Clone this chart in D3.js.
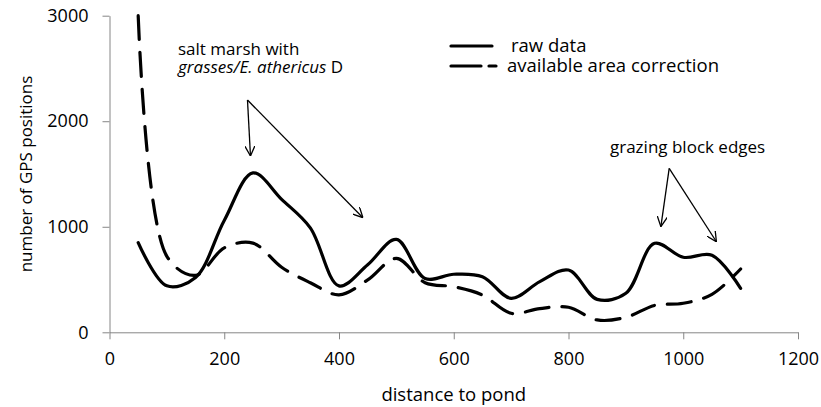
<!DOCTYPE html>
<html>
<head>
<meta charset="utf-8">
<script src="https://cdn.jsdelivr.net/npm/d3@7"></script>
<style>
  body { margin: 0; background: #fff; }
  text { font-family: "Open Sans", sans-serif; fill: #000; }
  .axis path, .axis line { stroke: #868686; }
</style>
</head>
<body>
<div id="chart"></div>
<script>
var distance = [50, 100, 150, 200, 250, 300, 350, 400, 450, 500, 550, 600, 650, 700, 750, 800, 850, 900, 950, 1000, 1050, 1100];
var rawData = [850, 440, 520, 1060, 1510, 1260, 990, 440, 640, 880, 510, 550, 527, 322, 480, 590, 312, 370, 843, 711, 730, 417];
var areaCorrected = [3000, 720, 540, 800, 845, 616, 470, 355, 496, 700, 470, 432, 353, 180, 225, 237, 117, 142, 255, 275, 360, 600];
var xTicks = [0, 200, 400, 600, 800, 1000, 1200];
var yTicks = [0, 1000, 2000, 3000];
var seriesNames = ["raw data", "available area correction"];

var width = 821, height = 407;
var margin = {top: 15.7, right: 23, bottom: 74.7, left: 109.5};

var svg = d3.select("#chart").append("svg")
    .attr("width", width)
    .attr("height", height);

var x = d3.scaleLinear()
    .domain([0, 1200])
    .range([margin.left, width - margin.right]);

var y = d3.scaleLinear()
    .domain([0, 3000])
    .range([height - margin.bottom, margin.top]);

var xAxis = d3.axisBottom(x)
    .tickValues(xTicks)
    .tickFormat(d3.format("d"))
    .tickSize(7)
    .tickSizeOuter(0)
    .tickPadding(13);
var yAxis = d3.axisLeft(y)
    .tickValues(yTicks)
    .tickFormat(d3.format("d"))
    .tickSize(7)
    .tickSizeOuter(0)
    .tickPadding(14);

svg.append("g").attr("class", "axis axis--x")
    .attr("transform", "translate(0," + y(0) + ")")
    .call(xAxis)
  .selectAll("text")
    .style("font-size", "18px");

svg.append("g").attr("class", "axis axis--y")
    .attr("transform", "translate(" + x(0) + ",0)")
    .call(yAxis)
  .selectAll("text")
    .style("font-size", "18px");

svg.selectAll(".axis text").attr("fill", "#000");

// axis titles
svg.append("text")
    .attr("x", x(600))
    .attr("y", 401)
    .attr("text-anchor", "middle")
    .style("font-size", "18.5px")
    .text("distance to pond");

svg.append("text")
    .attr("transform", "translate(32," + ((y(0) + y(3000)) / 2) + ") rotate(-90)")
    .attr("text-anchor", "middle")
    .style("font-size", "17px")
    .text("number of GPS positions");

var line = d3.line()
    .x(function(d, i) { return x(distance[i]); })
    .y(function(d) { return y(d); })
    .curve(d3.curveCatmullRom.alpha(0.5));

svg.append("path")
    .datum(areaCorrected)
    .attr("d", line)
    .attr("fill", "none")
    .attr("stroke", "#000")
    .attr("stroke-width", 3.2)
    .attr("stroke-linecap", "round")
    .attr("stroke-dasharray", "24,13");

svg.append("path")
    .datum(rawData)
    .attr("d", line)
    .attr("fill", "none")
    .attr("stroke", "#000")
    .attr("stroke-width", 3.2)
    .attr("stroke-linecap", "round");

// legend (both labels in one text so rows sit tight like the original)
var legend = svg.append("g");
legend.append("line")
    .attr("x1", 451).attr("x2", 492)
    .attr("y1", 46).attr("y2", 46)
    .attr("stroke", "#000").attr("stroke-width", 3.2).attr("stroke-linecap", "round");
legend.append("line")
    .attr("x1", 451).attr("x2", 496)
    .attr("y1", 66).attr("y2", 66)
    .attr("stroke", "#000").attr("stroke-width", 3.2).attr("stroke-linecap", "round")
    .attr("stroke-dasharray", "30,8");
var legendText = legend.append("text")
    .style("font-size", "18.5px");
legendText.append("tspan").attr("x", 511).attr("y", 52).text(seriesNames[0]);
legendText.append("tspan").attr("x", 507).attr("y", 72).text(seriesNames[1]);

// annotations
var marker = svg.append("defs").append("marker")
    .attr("id", "arrow")
    .attr("viewBox", "0 0 10 10")
    .attr("refX", 10).attr("refY", 5)
    .attr("markerWidth", 10).attr("markerHeight", 10)
    .attr("markerUnits", "userSpaceOnUse")
    .attr("orient", "auto");
marker.append("path")
    .attr("d", "M0,0L10,5L0,10")
    .attr("fill", "none")
    .attr("stroke", "#000")
    .attr("stroke-width", 1.3);

var arrows = [
  {from: [240.5, 2201], to: [245.7, 1671]},
  {from: [240.5, 2201], to: [441.7, 1086]},
  {from: [975.5, 1554], to: [961, 1001]},
  {from: [975.5, 1554], to: [1057.8, 858]}
];
svg.selectAll(".annot-arrow")
    .data(arrows)
  .enter().append("line")
    .attr("class", "annot-arrow")
    .attr("x1", function(d) { return x(d.from[0]); })
    .attr("y1", function(d) { return y(d.from[1]); })
    .attr("x2", function(d) { return x(d.to[0]); })
    .attr("y2", function(d) { return y(d.to[1]); })
    .attr("stroke", "#000")
    .attr("stroke-width", 1.3)
    .attr("marker-end", "url(#arrow)");

var note = svg.append("text")
    .style("font-size", "17px");
note.append("tspan").attr("x", 178).attr("y", 55).text("salt marsh with");
note.append("tspan").attr("x", 178).attr("y", 73).style("font-style", "italic").text("grasses/E. athericus");
note.append("tspan").text(" D");

svg.append("text")
    .attr("x", 610).attr("y", 153)
    .style("font-size", "17px")
    .text("grazing block edges");
</script>
</body>
</html>
